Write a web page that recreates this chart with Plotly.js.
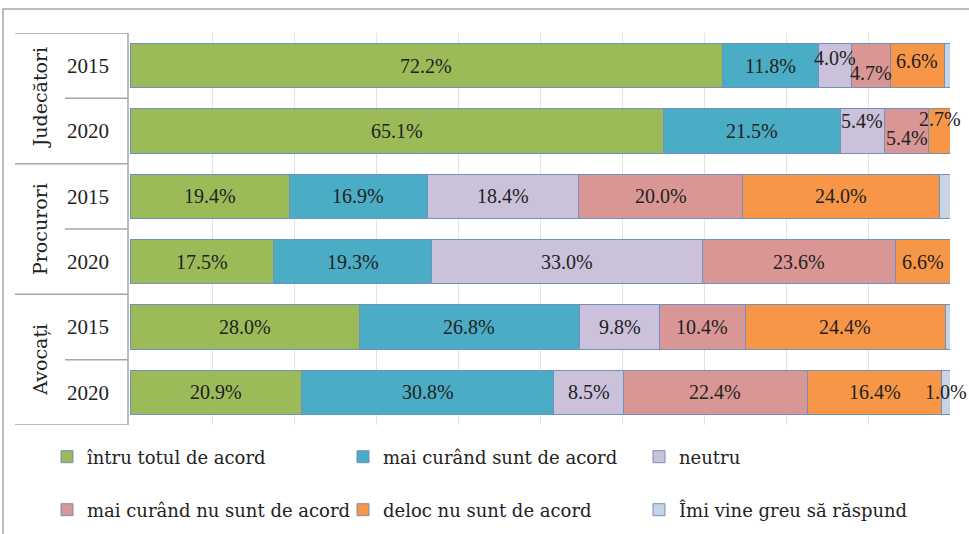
<!DOCTYPE html>
<html>
<head>
<meta charset="utf-8">
<script src="https://cdn.plot.ly/plotly-3.0.1.min.js"></script>
<style>
html,body{margin:0;padding:0;background:#fff;}
#chart{width:969px;height:534px;}
</style>
</head>
<body>
<div id="chart"></div>
<script>
// ---- data ----
const groups = ['Judecători', 'Procurori', 'Avocați'];
const years = ['2015', '2020', '2015', '2020', '2015', '2020'];
const rowGroup = [0, 0, 1, 1, 2, 2];
const seriesNames = ['întru totul de acord', 'mai curând sunt de acord', 'neutru',
  'mai curând nu sunt de acord', 'deloc nu sunt de acord', 'Îmi vine greu să răspund'];
const intruTotul   = [72.2, 65.1, 19.4, 17.5, 28.0, 20.9];
const maiCurandDa  = [11.8, 21.5, 16.9, 19.3, 26.8, 30.8];
const neutru       = [4.0, 5.4, 18.4, 33.0, 9.8, 8.5];
const maiCurandNu  = [4.7, 5.4, 20.0, 23.6, 10.4, 22.4];
const deloc        = [6.6, 2.7, 24.0, 6.6, 24.4, 16.4];
const greu         = [0.7, 0.0, 1.3, 0.0, 0.6, 1.0];
const series = [intruTotul, maiCurandDa, neutru, maiCurandNu, deloc, greu];

// ---- style ----
const colors = ['#9BBB59', '#4BACC6', '#CCC1DA', '#D99694', '#F79646', '#C6D4E3'];
const hiddenLabels = ['0-5', '2-5', '4-5', '1-5', '3-5'];
const labelShift = {'0-2': -8, '0-3': 7, '0-4': -5, '1-2': -10, '1-3': 7, '1-4': -12};
const numFont = 'Liberation Serif, Times New Roman, serif';
const wordFont = 'DejaVu Serif, serif';
const legendCols = [47, 343, 639];   // px, left of each legend column
const legendRows = [457, 510];       // px, centre of each legend row

const rows = years.map((_, i) => i);
const legendIds = series.map((_, s) => s === 0 ? 'legend' : 'legend' + (s + 1));

const traces = series.map((vals, s) => ({
  type: 'bar',
  orientation: 'h',
  name: seriesNames[s],
  x: vals,
  y: rows,
  marker: {color: colors[s], line: {color: '#7290BE', width: 1}},
  hoverinfo: 'x+name',
  legend: legendIds[s]
}));

const annotations = [];
rows.forEach(r => {
  let cum = 0;
  series.forEach((vals, s) => {
    const v = vals[r];
    const key = r + '-' + s;
    if (v > 0 && hiddenLabels.indexOf(key) < 0) {
      annotations.push({
        x: cum + v / 2, y: r, xref: 'x', yref: 'y',
        text: v.toFixed(1) + '%', showarrow: false,
        font: {family: numFont, size: 20, color: '#222'},
        yshift: -(labelShift[key] || 0)
      });
    }
    cum += v;
  });
});

// group labels
const PL = 130, PW = 820;
const px2paper = p => (p - PL) / PW;
groups.forEach((g, gi) => {
  const idx = rowGroup.map((v, i) => v === gi ? i : -1).filter(i => i >= 0);
  const mid = (idx[0] + idx[idx.length - 1]) / 2;
  annotations.push({
    x: px2paper(40), y: mid, xref: 'paper', yref: 'y', textangle: -90,
    text: g, showarrow: false, xanchor: 'center', yanchor: 'middle',
    font: {family: wordFont, size: 19, color: '#222'}
  });
});

// divider lines in label area
const shapes = [];
const lineStyle = {color: '#A6A6A6', width: 1.5};
for (let b = 0; b <= rows.length; b++) {
  const yb = b - 0.5;
  const isGroup = b === 0 || b === rows.length || rowGroup[b] !== rowGroup[b - 1];
  shapes.push({type: 'line', xref: 'paper', yref: 'y',
    x0: px2paper(isGroup ? 15 : 65), x1: px2paper(128), y0: yb, y1: yb, line: lineStyle});
}
shapes.push({type: 'line', xref: 'paper', yref: 'y', x0: px2paper(128), x1: px2paper(128),
  y0: -0.5, y1: rows.length - 0.5, line: lineStyle});
// outer frame
shapes.push({type: 'rect', xref: 'paper', yref: 'paper',
  x0: px2paper(3), x1: px2paper(990), y0: (425 - 560) / 392, y1: (425 - 9) / 392,
  line: {color: '#A6A6A6', width: 1.5}, fillcolor: 'rgba(0,0,0,0)', layer: 'below'});

const layout = {
  width: 969, height: 534,
  margin: {l: 130, r: 19, t: 33, b: 109},
  paper_bgcolor: '#fff', plot_bgcolor: '#fff',
  barmode: 'stack', bargap: 0.32,
  showlegend: true,
  xaxis: {range: [0, 100], dtick: 10, showticklabels: false, showgrid: true,
    gridcolor: '#E3E3E3', gridwidth: 1, zeroline: false, showline: false, fixedrange: true},
  yaxis: {range: [rows.length - 0.5, -0.5], tickvals: rows, ticktext: years,
    showgrid: false, zeroline: false, showline: false, ticks: '',
    ticklabelstandoff: 20,
    tickfont: {family: numFont, size: 21, color: '#222'}, fixedrange: true},
  annotations: annotations,
  shapes: shapes
};
legendIds.forEach((id, s) => {
  layout[id] = {
    orientation: 'h', xref: 'container', yref: 'container',
    x: legendCols[s % 3] / 969, y: 1 - legendRows[Math.floor(s / 3)] / 534,
    xanchor: 'left', yanchor: 'middle',
    font: {family: wordFont, size: 18, color: '#222'},
    bgcolor: 'rgba(0,0,0,0)'
  };
});

Plotly.newPlot('chart', traces, layout, {displayModeBar: false, staticPlot: true});
</script>
</body>
</html>
